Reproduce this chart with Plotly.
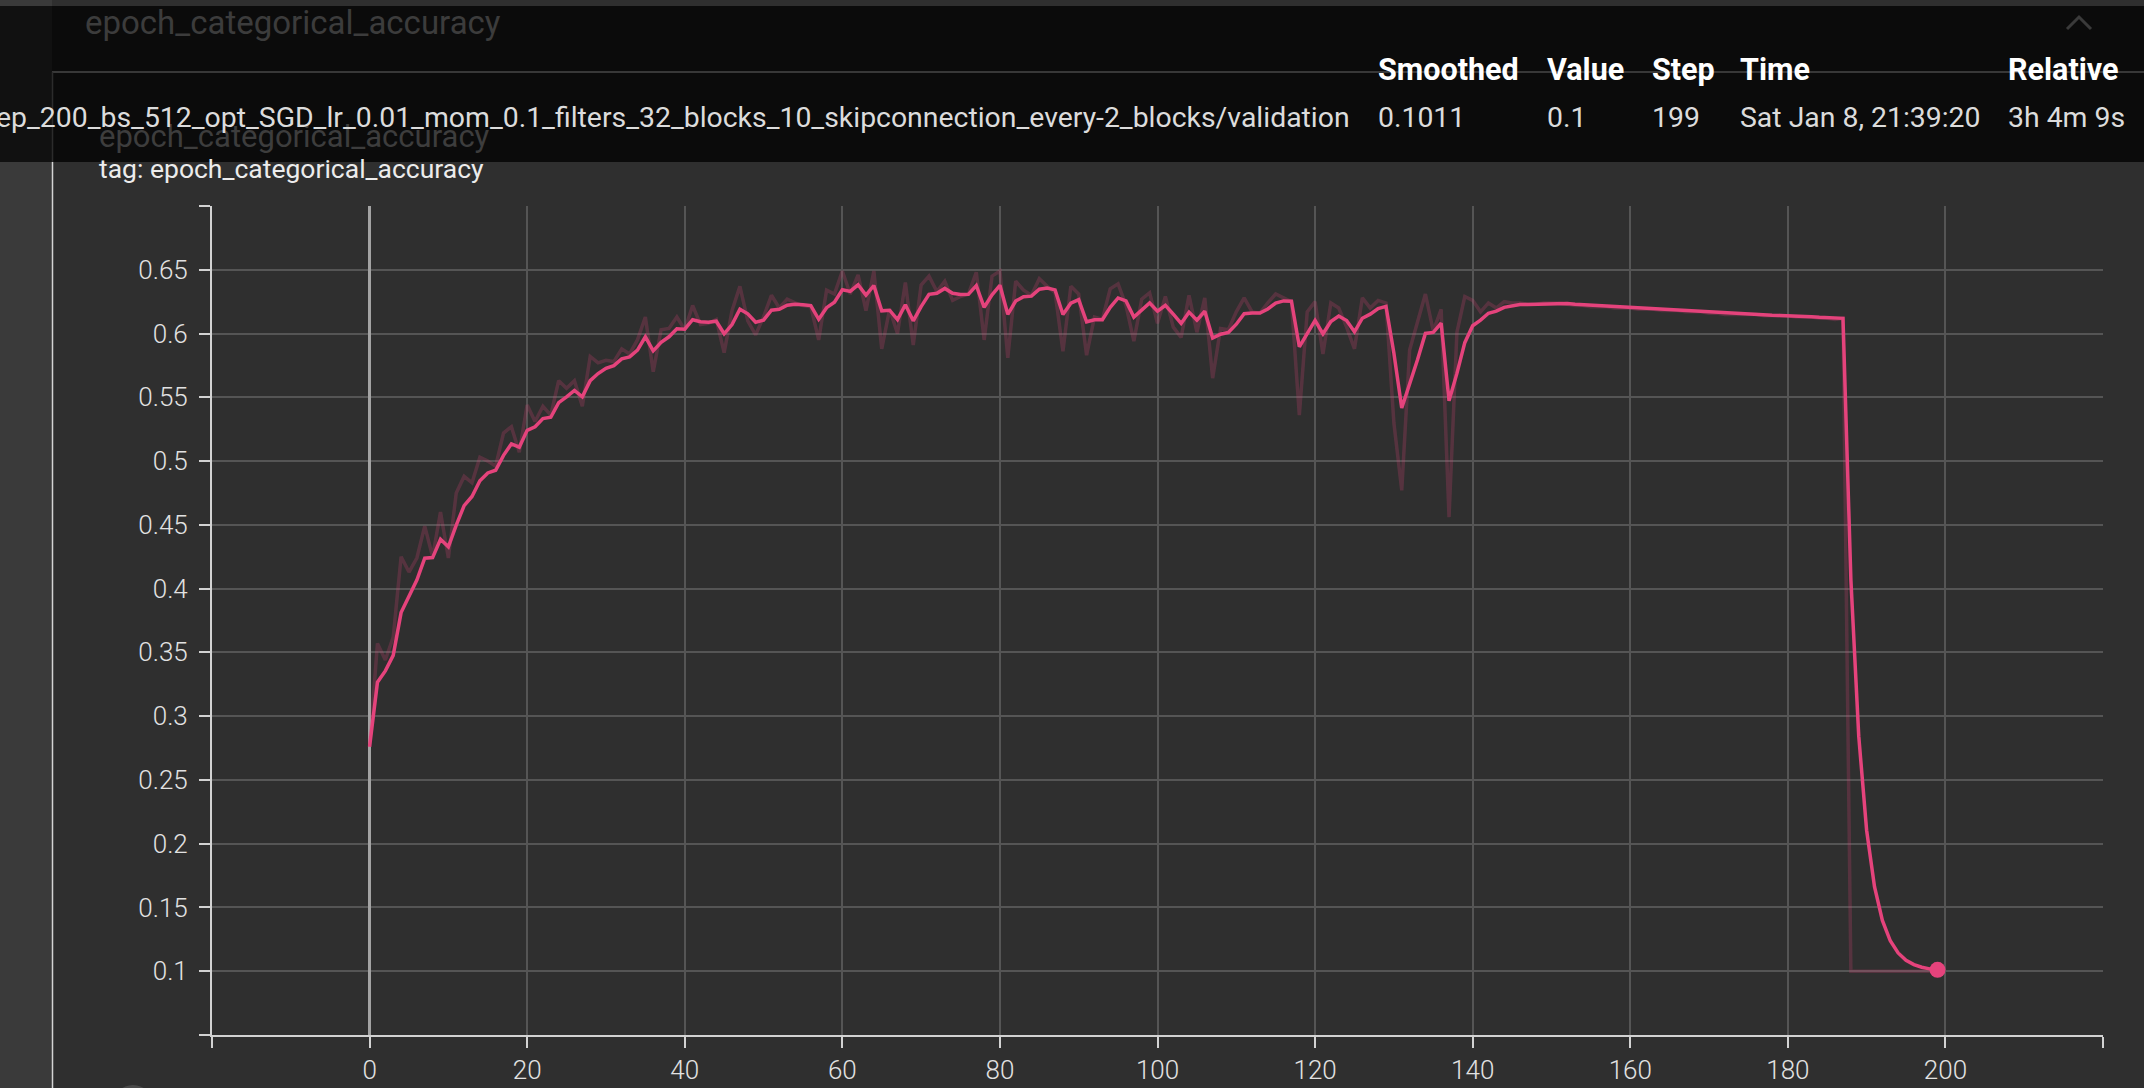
import plotly.graph_objects as go

# ---------------- data ----------------
steps = list(range(200))

raw_accuracy = [
    0.276, 0.357, 0.344, 0.362, 0.425, 0.413, 0.424, 0.449, 0.425, 0.460,
    0.424, 0.475, 0.488, 0.483, 0.503, 0.500, 0.496, 0.522, 0.527, 0.507,
    0.544, 0.531, 0.543, 0.536, 0.563, 0.557, 0.563, 0.543, 0.582, 0.577,
    0.579, 0.578, 0.588, 0.584, 0.595, 0.613, 0.570, 0.603, 0.604, 0.613,
    0.603, 0.622, 0.607, 0.608, 0.611, 0.585, 0.618, 0.637, 0.610, 0.599,
    0.613, 0.630, 0.620, 0.627, 0.624, 0.622, 0.621, 0.595, 0.634, 0.631,
    0.649, 0.631, 0.646, 0.618, 0.649, 0.588, 0.619, 0.600, 0.640, 0.591,
    0.638, 0.645, 0.633, 0.641, 0.626, 0.629, 0.631, 0.648, 0.595, 0.645,
    0.649, 0.581, 0.641, 0.634, 0.630, 0.643, 0.637, 0.632, 0.586, 0.637,
    0.631, 0.583, 0.613, 0.611, 0.635, 0.639, 0.622, 0.594, 0.627, 0.632,
    0.608, 0.629, 0.605, 0.597, 0.630, 0.601, 0.628, 0.565, 0.604, 0.603,
    0.617, 0.628, 0.617, 0.616, 0.624, 0.631, 0.628, 0.625, 0.536, 0.617,
    0.625, 0.584, 0.624, 0.620, 0.605, 0.588, 0.628, 0.620, 0.626, 0.624,
    0.530, 0.477, 0.587, 0.609, 0.631, 0.602, 0.619, 0.456, 0.601, 0.629,
    0.626, 0.617, 0.624, 0.620, 0.625, 0.624, 0.624, 0.623, 0.623, 0.624,
    0.624, 0.624, 0.623, 0.622, 0.622, 0.621, 0.621, 0.621, 0.620, 0.620,
    0.620, 0.619, 0.619, 0.619, 0.618, 0.618, 0.618, 0.617, 0.617, 0.617,
    0.616, 0.616, 0.615, 0.615, 0.615, 0.615, 0.615, 0.614, 0.614, 0.614,
    0.614, 0.613, 0.613, 0.613, 0.612, 0.612, 0.611, 0.612, 0.100, 0.100,
    0.100, 0.100, 0.100, 0.100, 0.100, 0.100, 0.100, 0.100, 0.100, 0.100,
]

smoothing_weight = 0.6  # TensorBoard smoothing slider

x_tick_vals = [-20, 0, 20, 40, 60, 80, 100, 120, 140, 160, 180, 200]
x_tick_text = ["", "0", "20", "40", "60", "80", "100", "120", "140", "160", "180", "200"]
y_tick_vals = [0.05, 0.1, 0.15, 0.2, 0.25, 0.3, 0.35, 0.4, 0.45, 0.5, 0.55, 0.6, 0.65, 0.7]
y_tick_text = ["", "0.1", "0.15", "0.2", "0.25", "0.3", "0.35", "0.4", "0.45", "0.5",
               "0.55", "0.6", "0.65", ""]

run_name = ("ep_200_bs_512_opt_SGD_lr_0.01_mom_0.1_filters_32_blocks_10_"
            "skipconnection_every-2_blocks/validation")
tooltip_headers = ["Smoothed", "Value", "Step", "Time", "Relative"]
tooltip_values = ["0.1011", "0.1", "199", "Sat Jan 8, 21:39:20", "3h 4m 9s"]
card_title = "epoch_categorical_accuracy"
tag_text = "tag: epoch_categorical_accuracy"

# TensorBoard's debiased exponential moving average of the raw values
smoothed = []
last = 0.0
for i, v in enumerate(raw_accuracy):
    last = last * smoothing_weight + (1 - smoothing_weight) * v
    smoothed.append(last / (1 - smoothing_weight ** (i + 1)))

# ---------------- layout geometry ----------------
W, H = 2144, 1088
L, R, T, B = 212, 2103, 206, 1035


def xp(x):
    return (x - L) / (R - L)


def yp(y):
    return (B - y) / (B - T)


PINK = "#e5437c"
FONT = "Roboto"

fig = go.Figure()
fig.add_trace(go.Scatter(x=steps, y=raw_accuracy, mode="lines",
                         line=dict(color="rgba(229,67,124,0.22)", width=3.5),
                         hoverinfo="skip", showlegend=False))
fig.add_trace(go.Scatter(x=steps, y=smoothed, mode="lines",
                         line=dict(color=PINK, width=3.5), showlegend=False))
fig.add_trace(go.Scatter(x=[steps[-1]], y=[smoothed[-1]], mode="markers",
                         marker=dict(color=PINK, size=16), showlegend=False))

axis_common = dict(
    showgrid=True, gridcolor="#555555", gridwidth=1.5,
    showline=True, linecolor="#d2d2d2", linewidth=2,
    ticks="outside", ticklen=11, tickwidth=2, tickcolor="#d2d2d2",
    tickfont=dict(family=FONT, size=26, color="#e2e2e2", weight=300),
    tickmode="array", automargin=False,
)

fig.update_xaxes(range=[-20, 220], tickvals=x_tick_vals, ticktext=x_tick_text,
                 zeroline=True, zerolinecolor="#a3a3a3", zerolinewidth=2.5,
                 ticklabelstandoff=0,
                 minor=dict(tickmode="array", tickvals=[220], ticks="outside",
                            ticklen=11, tickwidth=2, tickcolor="#d2d2d2", showgrid=False),
                 **axis_common)
fig.update_yaxes(range=[0.05, 0.7], tickvals=y_tick_vals, ticktext=y_tick_text,
                 zeroline=False, ticklabelstandoff=6, **axis_common)


def path(points):
    return "M " + " L ".join(f"{xp(x)},{yp(y)}" for x, y in points)


shapes = [
    # left page strip
    dict(type="rect", xref="paper", yref="paper", x0=xp(0), x1=xp(52), y0=yp(H), y1=yp(0),
         fillcolor="#3a3a3a", line=dict(width=0), layer="below"),
    # card left border
    dict(type="line", xref="paper", yref="paper", x0=xp(52.5), x1=xp(52.5), y0=yp(H), y1=yp(162),
         line=dict(color="#d4d4d4", width=1.5)),
    # tooltip box
    dict(type="rect", xref="paper", yref="paper", x0=xp(0), x1=xp(W), y0=yp(162), y1=yp(6),
         fillcolor="#0b0b0b", line=dict(width=0)),
    dict(type="rect", xref="paper", yref="paper", x0=xp(0), x1=xp(52), y0=yp(162), y1=yp(6),
         fillcolor="#111111", line=dict(width=0)),
    # card borders seen through tooltip
    dict(type="line", xref="paper", yref="paper", x0=xp(52), x1=xp(W), y0=yp(72), y1=yp(72),
         line=dict(color="#383838", width=2)),
    dict(type="line", xref="paper", yref="paper", x0=xp(52.5), x1=xp(52.5), y0=yp(162), y1=yp(72),
         line=dict(color="#2c2c2c", width=1.5)),
    # collapse chevron seen through tooltip
    dict(type="path", xref="paper", yref="paper",
         path=path([(2067, 29), (2079, 17), (2091, 29)]),
         line=dict(color="#3a3a3a", width=3)),
    # bottom-left partial button
    dict(type="circle", xref="paper", yref="paper", x0=xp(113), x1=xp(153), y0=yp(1085), y1=yp(1125),
         fillcolor="#4a4a4a", line=dict(width=0)),
]

annotations = [
    dict(text=card_title, x=xp(83), y=yp(22), xanchor="left", yanchor="middle",
         font=dict(family=FONT, size=33, color="#3c3c3c")),
    dict(text=card_title, x=xp(97), y=yp(136), xanchor="left", yanchor="middle",
         font=dict(family=FONT, size=31, color="#3d3d3d")),
    dict(text=tag_text, x=xp(97), y=yp(169), xanchor="left", yanchor="middle",
         font=dict(family=FONT, size=26.5, color="#ececec")),
    dict(text=run_name, x=xp(1352), y=yp(117.5), xanchor="right", yanchor="middle",
         font=dict(family=FONT, size=28.4, color="#dcdcdc")),
]
col_x = [1376, 1545, 1650, 1738, 2006]
for cx, h, v in zip(col_x, tooltip_headers, tooltip_values):
    annotations.append(dict(text=h, x=xp(cx), y=yp(69.5), xanchor="left", yanchor="middle",
                            font=dict(family=FONT, size=30.5, color="#ffffff", weight=700)))
    annotations.append(dict(text=v, x=xp(cx), y=yp(117.5), xanchor="left", yanchor="middle",
                            font=dict(family=FONT, size=28.4, color="#dcdcdc")))
for a in annotations:
    a.update(xref="paper", yref="paper", showarrow=False)

fig.update_layout(
    width=W, height=H,
    margin=dict(l=L, r=W - R, t=T, b=H - B, pad=0, autoexpand=False),
    paper_bgcolor="#2f2f2f", plot_bgcolor="#2f2f2f",
    shapes=shapes, annotations=annotations,
    showlegend=False,
    font=dict(family=FONT),
)

fig.write_html("out.html")
